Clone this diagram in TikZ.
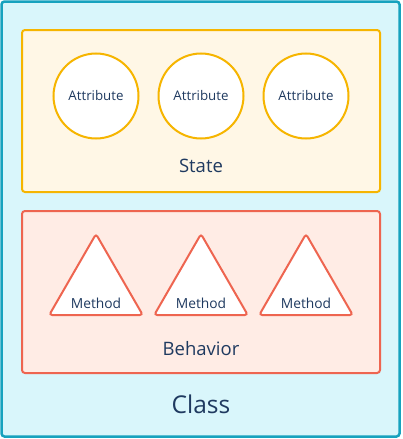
\documentclass[tikz,border=0pt]{standalone}
\usepackage{fontspec}
\setmainfont{Open Sans}
\usetikzlibrary{shapes.geometric}

\definecolor{classfill}{HTML}{D9F6FB}
\definecolor{classline}{HTML}{17A2BE}
\definecolor{statefill}{HTML}{FFF7E6}
\definecolor{stateline}{HTML}{F6B500}
\definecolor{behfill}{HTML}{FFECE5}
\definecolor{behline}{HTML}{EE6550}
\definecolor{ink}{HTML}{1F3A60}

\begin{document}
\begin{tikzpicture}[x=1pt,y=-1pt,
	box/.style={line width=2pt, rounded corners=3pt},
	attr/.style={circle, draw=stateline, fill=white, line width=2pt, minimum size=85pt, inner sep=0pt, text=ink, font=\fontsize{13.3}{13.3}\selectfont},
	meth/.style={regular polygon, regular polygon sides=3, draw=behline, fill=white, line width=2pt, minimum size=108pt, inner sep=0pt, rounded corners=3pt},
	lbl/.style={text=ink, font=\fontsize{#1}{#1}\selectfont}
	]
	\useasboundingbox (0,0) rectangle (402,439);
	
	% class, state and behavior boxes
	\draw[box, draw=classline, fill=classfill, line width=2.5pt] (1.5,1.5) rectangle (399.5,436.5);
	\draw[box, draw=stateline, fill=statefill] (22,30) rectangle (380,192);
	\draw[box, draw=behline, fill=behfill] (22,211) rectangle (380,373);
	
	% attributes
	\node[attr] (a1) at (96,96) {Attribute};
	\node[attr] (a2) at (201,96) {Attribute};
	\node[attr] (a3) at (306,96) {Attribute};
	\node[lbl=18.5] (state) at (201,166) {State};
	
	% methods
	\foreach \i/\x in {1/96, 2/201, 3/306} {
		\node[meth] (t\i) at (\x,288) {};
		\node[lbl=13.8] (m\i) at (\x,303) {Method};
	}
	\node[lbl=18.5] (behavior) at (201,349) {Behavior};
	
	\node[lbl=24.5] (class) at (201,404) {Class};
\end{tikzpicture}
\end{document}
